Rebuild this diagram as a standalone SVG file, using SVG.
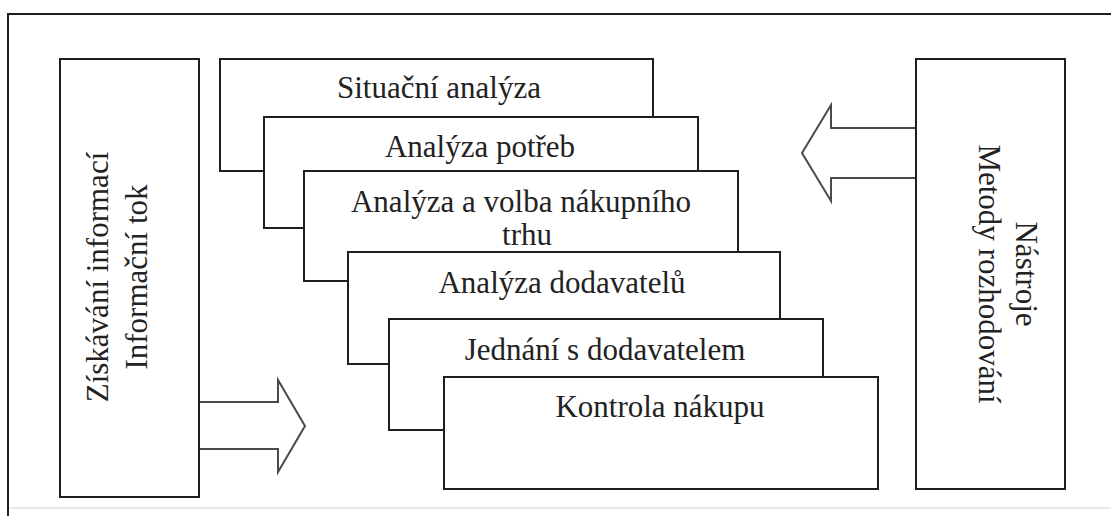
<svg xmlns="http://www.w3.org/2000/svg" width="1111" height="516" viewBox="0 0 1111 516">
<style>
.box{fill:#fff;stroke:#1e1e1e;stroke-width:2}
.arrow{fill:#fff;stroke:#4a4a4a;stroke-width:2;stroke-linejoin:miter}
.t{font-size:31px;fill:#222;text-anchor:middle}
</style>
<rect width="1111" height="516" fill="#fff"/>
<g id="frame">
<line x1="8" y1="508" x2="1111" y2="508" stroke="#e2e2e2" stroke-width="1.5"/>
<polyline points="8,516 8,14 1111,14" fill="none" stroke="#1e1e1e" stroke-width="2"/>
</g>
<g id="connectors">
<polygon class="arrow" points="197,402 278,402 278,380 305,426 278,472 278,449 197,449"/>
<polygon class="arrow" points="916,128 831,128 831,105 802,153 831,201 831,178 916,178"/>
</g>
<g font-family="'Liberation Serif', 'DejaVu Serif', serif">
<g id="info">
<rect class="box" x="60" y="59" width="139" height="438"/>
<text class="t" transform="translate(108,277) rotate(-90)">Získávání informací</text>
<text class="t" transform="translate(147,277) rotate(-90)">Informační tok</text>
</g>
<g id="tools">
<rect class="box" x="916" y="59" width="149" height="430"/>
<text class="t" transform="translate(1016,274) rotate(90)">Nástroje</text>
<text class="t" transform="translate(979,274) rotate(90)">Metody rozhodování</text>
</g>
<g id="step1">
<rect class="box" x="220" y="59" width="433" height="112"/>
<text class="t" x="439" y="98">Situační analýza</text>
</g>
<g id="step2">
<rect class="box" x="264" y="117" width="434" height="111"/>
<text class="t" x="480" y="157">Analýza potřeb</text>
</g>
<g id="step3">
<rect class="box" x="304" y="171" width="434" height="110"/>
<text class="t" x="521" y="212">Analýza a volba nákupního</text>
<text class="t" x="527" y="245">trhu</text>
</g>
<g id="step4">
<rect class="box" x="348" y="252" width="432" height="112"/>
<text class="t" x="562" y="293">Analýza dodavatelů</text>
</g>
<g id="step5">
<rect class="box" x="389" y="319" width="434" height="111"/>
<text class="t" x="605" y="360">Jednání s dodavatelem</text>
</g>
<g id="step6">
<rect class="box" x="444" y="377" width="434" height="112"/>
<text class="t" x="660" y="417">Kontrola nákupu</text>
</g>
</g>
</svg>
